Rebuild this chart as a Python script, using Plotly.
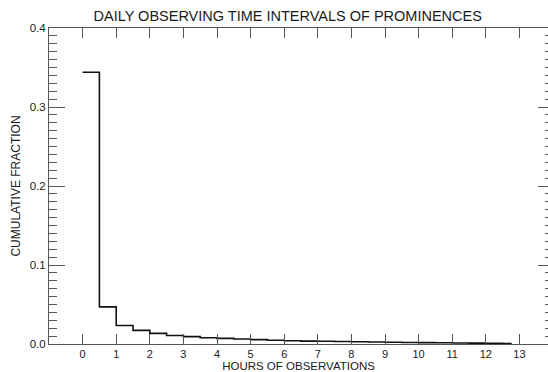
import plotly.graph_objects as go

# Histogram bins (hours) and fraction values
bin_starts = [0.0, 0.5, 1.0, 1.5, 2.0, 2.5, 3.0, 3.5, 4.0, 4.5, 5.0, 5.5, 6.0,
              6.5, 7.0, 7.5, 8.0, 8.5, 9.0, 9.5, 10.0, 10.5, 11.0, 11.5, 12.0, 12.5]
bin_end = 12.77
fractions = [0.344, 0.047, 0.0235, 0.0173, 0.0135, 0.0108, 0.0093, 0.0080, 0.0071,
             0.0063, 0.0056, 0.0048, 0.0041, 0.0037, 0.0034, 0.0031, 0.0028, 0.0025,
             0.0022, 0.0019, 0.0017, 0.0015, 0.0013, 0.0011, 0.0009, 0.0007]

x_ticks = list(range(0, 14))
y_ticks = [0.0, 0.1, 0.2, 0.3, 0.4]

xs = bin_starts + [bin_end]
ys = fractions + [fractions[-1]]

font = "Liberation Sans, Arial, Helvetica, sans-serif"
txt = "#1a1a1a"
axc = "#555555"

fig = go.Figure()
fig.add_trace(go.Scatter(x=xs, y=ys, mode="lines", line=dict(shape="hv", color="#111111", width=1.6),
                         showlegend=False, hoverinfo="skip"))
fig.add_trace(go.Scatter(x=xs, y=ys, mode="lines", yaxis="y2", opacity=0,
                         showlegend=False, hoverinfo="skip"))

fig.update_layout(
    width=548, height=372,
    margin=dict(l=49, r=0, t=28, b=28),
    paper_bgcolor="white", plot_bgcolor="white",
    font=dict(family=font, size=11, color=txt),
    title=dict(text="DAILY OBSERVING TIME INTERVALS OF PROMINENCES", x=0.525, xanchor="center",
               y=0.957, yanchor="middle", font=dict(size=14.5, color=txt, family=font)),
    xaxis=dict(range=[-1, 13.85], tickvals=x_ticks, ticktext=[str(v) for v in x_ticks],
               ticks="inside", ticklen=10, tickcolor=axc, tickwidth=1,
               showline=True, linecolor=axc, linewidth=1, mirror="ticks",
               showgrid=False, zeroline=False,
               title=dict(text="HOURS OF OBSERVATIONS", standoff=2, font=dict(size=11.5)),
               tickfont=dict(size=11)),
    yaxis=dict(range=[0, 0.4], tickvals=y_ticks, ticktext=[f"{v:.1f}" for v in y_ticks],
               ticks="inside", ticklen=16, tickcolor=axc, tickwidth=1,
               minor=dict(dtick=0.01, ticks="inside", ticklen=8, tickcolor=axc, tickwidth=1, showgrid=False),
               showline=True, linecolor=axc, linewidth=1,
               showgrid=False, zeroline=False,
               title=dict(text="CUMULATIVE FRACTION", standoff=6, font=dict(size=12)),
               tickfont=dict(size=11.5)),
    yaxis2=dict(range=[0, 0.4], overlaying="y", side="right", tickvals=y_ticks,
                showticklabels=False, ticks="inside", ticklen=10, tickcolor=axc,
                minor=dict(dtick=0.01, ticks="inside", ticklen=3, tickcolor=axc, showgrid=False),
                showline=False, showgrid=False, zeroline=False),
)

fig.write_html("out.html")
